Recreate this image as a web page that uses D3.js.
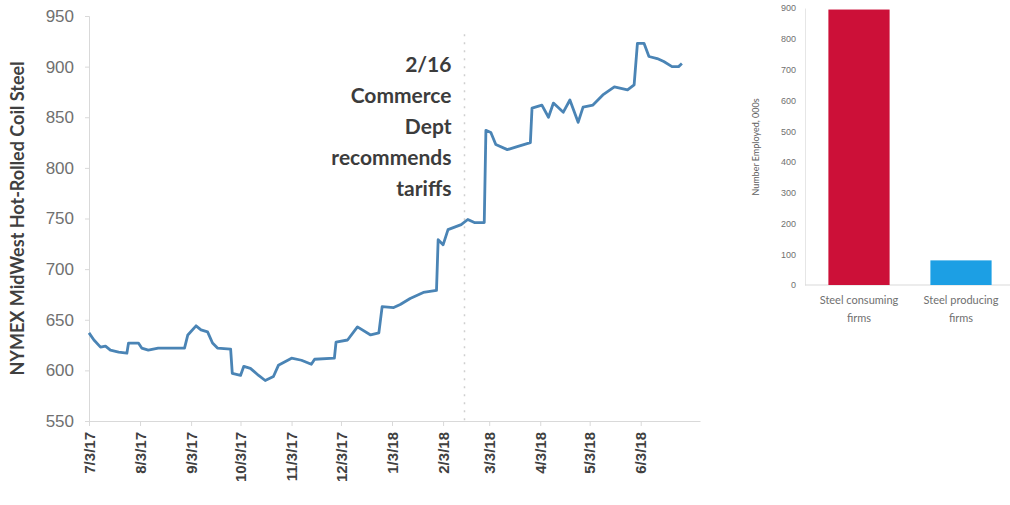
<!DOCTYPE html>
<html>
<head>
<meta charset="utf-8">
<script src="https://cdn.jsdelivr.net/npm/d3@7"></script>
<style>
  body { margin: 0; background: #fff; }
  svg { font-family: Lato, "Open Sans", sans-serif; }
</style>
</head>
<body>
<div id="chart"></div>
<script>
// steel price (left panel)
const priceDates = ["2017-07-03","2017-07-06","2017-07-10","2017-07-13","2017-07-16","2017-07-21","2017-07-26","2017-07-27",
  "2017-08-02","2017-08-04","2017-08-08","2017-08-14","2017-08-30","2017-09-01","2017-09-06","2017-09-09","2017-09-13",
  "2017-09-16","2017-09-19","2017-09-27","2017-09-28","2017-10-03","2017-10-05","2017-10-09","2017-10-14","2017-10-18",
  "2017-10-23","2017-10-26","2017-11-03","2017-11-09","2017-11-15","2017-11-17","2017-11-29","2017-11-30","2017-12-07",
  "2017-12-13","2017-12-21","2017-12-26","2017-12-28","2018-01-04","2018-01-08","2018-01-14","2018-01-22","2018-01-30",
  "2018-01-31","2018-02-03","2018-02-06","2018-02-14","2018-02-18","2018-02-22","2018-02-28","2018-03-01","2018-03-04",
  "2018-03-07","2018-03-14","2018-03-20","2018-03-28","2018-03-29","2018-04-04","2018-04-08","2018-04-11","2018-04-17",
  "2018-04-21","2018-04-26","2018-04-29","2018-05-05","2018-05-11","2018-05-18","2018-05-26","2018-05-30","2018-06-01",
  "2018-06-05","2018-06-08","2018-06-13","2018-06-17","2018-06-22","2018-06-26","2018-06-28"];
const priceValues = [637,630,623,624,620,618,617,627,
  627,622,620,622,622,635,644,640,638,
  627,622,621,597,595,604,602,595,590,
  594,605,612,610,606,611,612,628,630,
  643,635,637,663,662,665,671,677,679,
  729,724,739,744,749,746,746,837,835,
  823,818,821,825,859,862,850,864,855,
  867,845,860,862,872,880,877,882,923,
  923,910,908,905,900,900,903];
const priceTicks = [550,600,650,700,750,800,850,900,950];
const monthTicks = ["2017-07-03","2017-08-03","2017-09-03","2017-10-03","2017-11-03","2017-12-03",
  "2018-01-03","2018-02-03","2018-03-03","2018-04-03","2018-05-03","2018-06-03"];
const eventDate = "2018-02-16";
const eventLines = ["2/16", "Commerce", "Dept", "recommends", "tariffs"];

// employment (right panel)
const firmTypes = ["Steel consuming firms", "Steel producing firms"];
const employed = [895, 80];
const firmColors = ["#cc1038", "#1c9fe4"];
const employTicks = [0,100,200,300,400,500,600,700,800,900];

const W = 1010, H = 505;
const parse = d3.timeParse("%Y-%m-%d");
const fmt = d3.timeFormat("%-m/%-d/%y");

const svg = d3.select("#chart").append("svg")
  .attr("width", W).attr("height", H);

// ---- left: price line ----
const x = d3.scaleTime()
  .domain([parse("2017-07-03"), parse("2018-07-09")])
  .range([89, 700]);
const y = d3.scaleLinear()
  .domain([550, 950])
  .range([421, 16]);

const yAxis = svg.append("g")
  .attr("transform", "translate(89,0)")
  .call(d3.axisLeft(y).tickValues(priceTicks).tickSize(4).tickPadding(11));
yAxis.select(".domain").attr("stroke", "#d9d9d9");
yAxis.selectAll(".tick line").attr("stroke", "#d9d9d9");
yAxis.selectAll("text").attr("fill", "#707070").style("font-size", "17px");

const xAxis = svg.append("g")
  .attr("transform", "translate(0,421)")
  .call(d3.axisBottom(x).tickValues(monthTicks.map(parse)).tickFormat(fmt).tickSize(5).tickSizeOuter(0));
xAxis.select(".domain").attr("stroke", "#d9d9d9");
xAxis.selectAll(".tick line").attr("stroke", "#d9d9d9");
xAxis.selectAll("text")
  .attr("transform", "rotate(-90)")
  .attr("x", -11).attr("y", 0).attr("dy", "0.35em")
  .style("text-anchor", "end")
  .style("font-size", "15px")
  .style("font-weight", "bold")
  .attr("fill", "#404040");

svg.append("text")
  .attr("transform", `translate(24,${(16 + 421) / 2}) rotate(-90)`)
  .attr("text-anchor", "middle")
  .style("font-size", "18px")
  .style("font-weight", "bold")
  .attr("fill", "#404040")
  .text("NYMEX MidWest Hot-Rolled Coil Steel");

// event marker
svg.append("line")
  .attr("x1", x(parse(eventDate))).attr("x2", x(parse(eventDate)))
  .attr("y1", y(932)).attr("y2", y(550))
  .attr("stroke", "#cfcfcf")
  .attr("stroke-width", 1.5)
  .attr("stroke-dasharray", "2,6");

svg.append("g").selectAll("text")
  .data(eventLines)
  .join("text")
    .attr("x", x(parse(eventDate)) - 13)
    .attr("y", (d, i) => 72 + i * 31)
    .attr("text-anchor", "end")
    .style("font-size", "21px")
    .style("font-weight", "bold")
    .attr("fill", "#3c3c3c")
    .text(d => d);

const series = priceDates.map((d, i) => ({date: parse(d), value: priceValues[i]}));
svg.append("path")
  .datum(series)
  .attr("fill", "none")
  .attr("stroke", "#4a84b5")
  .attr("stroke-width", 2.8)
  .attr("stroke-linejoin", "round")
  .attr("d", d3.line().x(d => x(d.date)).y(d => y(d.value)));

// ---- right: employment bars ----
const bx = d3.scaleBand()
  .domain(firmTypes)
  .range([808, 1012])
  .paddingInner(0.4)
  .paddingOuter(0.2);
const by = d3.scaleLinear()
  .domain([0, 900])
  .range([285, 8]);

const byAxis = svg.append("g")
  .attr("transform", "translate(805,0)")
  .call(d3.axisLeft(by).tickValues(employTicks).tickSize(0).tickPadding(9));
byAxis.select(".domain").attr("stroke", "#e6e6e6");
byAxis.selectAll("text").attr("fill", "#707070").style("font-size", "9px");

svg.append("line")
  .attr("x1", 805).attr("x2", 1010)
  .attr("y1", by(0)).attr("y2", by(0))
  .attr("stroke", "#d9d9d9");

svg.selectAll("rect.bar")
  .data(firmTypes)
  .join("rect")
    .attr("class", "bar")
    .attr("x", d => bx(d))
    .attr("y", (d, i) => by(employed[i]))
    .attr("width", bx.bandwidth())
    .attr("height", (d, i) => by(0) - by(employed[i]))
    .attr("fill", (d, i) => firmColors[i]);

svg.selectAll("text.cat")
  .data(firmTypes)
  .join("text")
    .attr("class", "cat")
    .attr("x", d => bx(d) + bx.bandwidth() / 2)
    .attr("y", 304)
    .attr("text-anchor", "middle")
    .style("font-size", "11px")
    .attr("fill", "#707070")
    .each(function(d) {
      const words = d.split(" ");
      const t = d3.select(this);
      t.append("tspan").attr("x", t.attr("x")).text(words.slice(0, 2).join(" "));
      t.append("tspan").attr("x", t.attr("x")).attr("dy", 18).text(words.slice(2).join(" "));
    });

svg.append("text")
  .attr("transform", `translate(759,147) rotate(-90)`)
  .attr("text-anchor", "middle")
  .style("font-size", "9px")
  .attr("fill", "#606060")
  .text("Number Employed, 000s");
</script>
</body>
</html>
